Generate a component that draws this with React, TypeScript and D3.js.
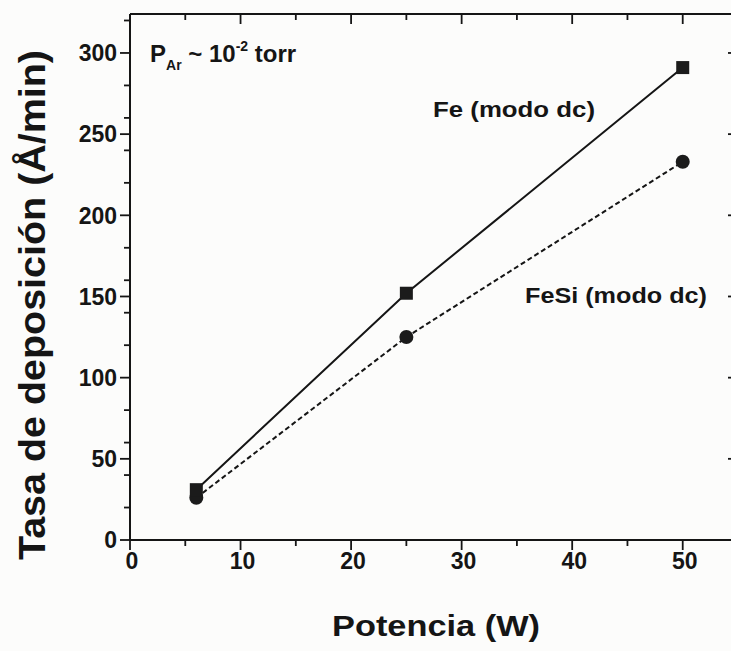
import React from "react";
import * as d3 from "d3";

// Deposition rate vs. sputtering power
const potencia = [6, 25, 50];
const tasaFe = [31, 152, 291];
const tasaFeSi = [26, 125, 233];

const xMajorTicks = [0, 10, 20, 30, 40, 50];
const yMajorTicks = [0, 50, 100, 150, 200, 250, 300];

const W = 731;
const H = 651;
const left = 130;
const right = 738;
const top = 14;
const bottom = 540;

const FONT = "'Liberation Sans', Arial, Helvetica, sans-serif";

export default function App() {
  const x = d3.scaleLinear().domain([0, 55]).range([left, right]);
  const y = d3.scaleLinear().domain([0, 324]).range([bottom, top]);

  const xMinor = x.ticks(11).filter((t) => !xMajorTicks.includes(t));
  const yMinor = y.ticks(13).filter((t) => !yMajorTicks.includes(t));

  const line = d3
    .line<number>()
    .x((_, i) => x(potencia[i]))
    .y((d) => y(d));

  const majorLen = 10;
  const minorLen = 6;
  const ink = "#151515";

  return (
    <svg
      width={W}
      height={H}
      style={{ position: "absolute", left: 0, top: 0, background: "#fcfcfb" }}
      fontFamily={FONT}
    >
      {/* frame */}
      <g stroke={ink} strokeWidth={2} fill="none">
        <line x1={left} y1={top} x2={left} y2={bottom} />
        <line x1={left} y1={bottom} x2={right} y2={bottom} />
        <line x1={left} y1={top} x2={right} y2={top} />
        <line x1={right} y1={top} x2={right} y2={bottom} />
      </g>

      {/* bottom and top ticks */}
      <g stroke={ink} strokeWidth={1.8}>
        {xMajorTicks.map((t) => (
          <g key={"xm" + t}>
            <line x1={x(t)} x2={x(t)} y1={bottom} y2={bottom + majorLen} />
            <line x1={x(t)} x2={x(t)} y1={top} y2={top + majorLen} />
          </g>
        ))}
        {xMinor.map((t) => (
          <g key={"xn" + t}>
            <line x1={x(t)} x2={x(t)} y1={bottom} y2={bottom + minorLen} />
            <line x1={x(t)} x2={x(t)} y1={top} y2={top + minorLen} />
          </g>
        ))}
        {yMajorTicks.map((t) => (
          <g key={"ym" + t}>
            <line x1={left - majorLen} x2={left} y1={y(t)} y2={y(t)} />
            <line x1={right - majorLen} x2={right} y1={y(t)} y2={y(t)} />
          </g>
        ))}
        {yMinor.map((t) => (
          <g key={"yn" + t}>
            <line x1={left - minorLen} x2={left} y1={y(t)} y2={y(t)} />
            <line x1={right - minorLen} x2={right} y1={y(t)} y2={y(t)} />
          </g>
        ))}
      </g>

      {/* tick labels */}
      <g fill={ink} fontWeight="bold" fontSize={23}>
        {xMajorTicks.map((t) => (
          <text key={"xl" + t} x={x(t) + 2} y={569} textAnchor="middle">
            {t}
          </text>
        ))}
        {yMajorTicks.map((t) => (
          <text key={"yl" + t} x={117} y={y(t)} dy="0.36em" textAnchor="end">
            {t}
          </text>
        ))}
      </g>

      {/* axis titles */}
      <text
        x={436}
        y={636}
        textAnchor="middle"
        fontWeight="bold"
        fontSize={30}
        fill={ink}
        textLength={208}
        lengthAdjust="spacingAndGlyphs"
      >
        Potencia (W)
      </text>
      <text
        transform={`translate(45, 305) rotate(-90)`}
        textAnchor="middle"
        fontWeight="bold"
        fontSize={37}
        fill={ink}
        textLength={510}
        lengthAdjust="spacingAndGlyphs"
      >
        Tasa de deposición (Å/min)
      </text>

      {/* series lines */}
      <path d={line(tasaFe) ?? ""} fill="none" stroke={ink} strokeWidth={2} />
      <path
        d={line(tasaFeSi) ?? ""}
        fill="none"
        stroke={ink}
        strokeWidth={2}
        strokeDasharray="5 3"
      />

      {/* markers */}
      {tasaFeSi.map((v, i) => (
        <circle key={"c" + i} cx={x(potencia[i])} cy={y(v)} r={7} fill="#1b1b1b" />
      ))}
      {tasaFe.map((v, i) => (
        <rect
          key={"s" + i}
          x={x(potencia[i]) - 6.5}
          y={y(v) - 6.5}
          width={13}
          height={13}
          fill="#1b1b1b"
        />
      ))}

      {/* annotations */}
      <text
        x={433}
        y={117}
        fontWeight="bold"
        fontSize={22}
        fill={ink}
        textLength={162}
        lengthAdjust="spacingAndGlyphs"
      >
        Fe (modo dc)
      </text>
      <text
        x={525}
        y={303}
        fontWeight="bold"
        fontSize={22}
        fill={ink}
        textLength={182}
        lengthAdjust="spacingAndGlyphs"
      >
        FeSi (modo dc)
      </text>
      <text x={150} y={62} fontWeight="bold" fontSize={24} fill={ink}>
        P
        <tspan fontSize={14} dy={8}>
          Ar
        </tspan>
        <tspan dy={-8}> ~ 10</tspan>
        <tspan fontSize={14} dy={-11}>
          -2
        </tspan>
        <tspan dy={11}> torr</tspan>
      </text>
    </svg>
  );
}
